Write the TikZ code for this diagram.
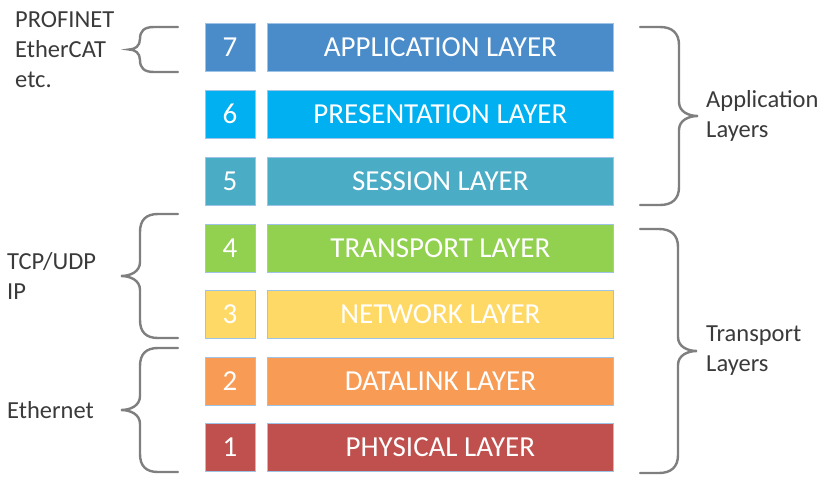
\documentclass[tikz,border=0pt]{standalone}
\usepackage{fontspec}
\setmainfont{Carlito}
\definecolor{appblue}{HTML}{4A8BC9}
\definecolor{presblue}{HTML}{00B0F0}
\definecolor{sessaqua}{HTML}{4BACC6}
\definecolor{transgreen}{HTML}{92D050}
\definecolor{netyellow}{HTML}{FFD966}
\definecolor{linkorange}{HTML}{F79B55}
\definecolor{physred}{HTML}{C0504D}
\definecolor{boxline}{HTML}{9DC3E6}
\definecolor{bracegray}{HTML}{7F7F7F}
\definecolor{labelgray}{HTML}{3A3A3A}
\tikzset{
  numbox/.style={draw=boxline, line width=0.8pt, minimum width=50pt, minimum height=48pt,
    inner sep=0pt, text=white, font=\fontsize{29}{32}\selectfont},
  layerbox/.style={numbox, minimum width=346pt, anchor=west},
  bracket/.style={draw=bracegray, line width=2.4pt, line cap=round},
  sidetext/.style={font=\fontsize{24.5}{30}\selectfont, align=left, text=labelgray,
    inner sep=0pt, anchor=west}
}
\begin{document}
\begin{tikzpicture}[x=1pt, y=-1pt]
\useasboundingbox (0,0) rectangle (824,480);
% the seven layers
\node[numbox, fill=appblue] (n7) at (230,47.5) {7};
\node[layerbox, fill=appblue] (l7) at (267,47.5) {APPLICATION LAYER};
\node[numbox, fill=presblue] (n6) at (230,114) {6};
\node[layerbox, fill=presblue] (l6) at (267,114) {PRESENTATION LAYER};
\node[numbox, fill=sessaqua] (n5) at (230,181) {5};
\node[layerbox, fill=sessaqua] (l5) at (267,181) {SESSION LAYER};
\node[numbox, fill=transgreen] (n4) at (230,248) {4};
\node[layerbox, fill=transgreen] (l4) at (267,248) {TRANSPORT LAYER};
\node[numbox, fill=netyellow] (n3) at (230,314.5) {3};
\node[layerbox, fill=netyellow] (l3) at (267,314.5) {NETWORK LAYER};
\node[numbox, fill=linkorange] (n2) at (230,381) {2};
\node[layerbox, fill=linkorange] (l2) at (267,381) {DATALINK LAYER};
\node[numbox, fill=physred] (n1) at (230,447.5) {1};
\node[layerbox, fill=physred] (l1) at (267,447.5) {PHYSICAL LAYER};
% left braces
\draw[bracket] (178,27) -- (154,27) .. controls (144,27) and (140,31) .. (140,39)
  .. controls (140,46) and (135,49.5) .. (129,49.5)
  .. controls (135,49.5) and (140,53) .. (140,60)
  .. controls (140,68) and (144,72) .. (154,72) -- (178,72);
\draw[bracket] (178,214) -- (158,214) .. controls (146,214) and (140,220) .. (140,232) -- (140,262)
  .. controls (140,272) and (130,276) .. (121,276)
  .. controls (130,276) and (140,280) .. (140,290) -- (140,320)
  .. controls (140,332) and (146,338) .. (158,338) -- (178,338);
\draw[bracket] (178,348) -- (158,348) .. controls (146,348) and (140,354) .. (140,366) -- (140,396)
  .. controls (140,406) and (130,410) .. (121,410)
  .. controls (130,410) and (140,414) .. (140,424) -- (140,454)
  .. controls (140,466) and (146,472) .. (158,472) -- (178,472);
% right braces
\draw[bracket] (640,27) -- (660,27) .. controls (672,27) and (679,33) .. (679,45) -- (679,102)
  .. controls (679,112) and (689,116) .. (698,116)
  .. controls (689,116) and (679,120) .. (679,130) -- (679,187)
  .. controls (679,199) and (672,205) .. (660,205) -- (640,205);
\draw[bracket] (640,229) -- (659,229) .. controls (671,229) and (678,235) .. (678,247) -- (678,337)
  .. controls (678,347) and (688,351) .. (697,351)
  .. controls (688,351) and (678,355) .. (678,365) -- (678,455)
  .. controls (678,467) and (671,473) .. (659,473) -- (640,473);
% labels
\node[sidetext] (fieldbus) at (15,50) {PROFINET\\EtherCAT\\etc.};
\node[sidetext] (tcpip) at (7,276) {TCP/UDP\\IP};
\node[sidetext] (ethernet) at (7,410) {Ethernet};
\node[sidetext] (applayers) at (706,116) {Application\\Layers};
\node[sidetext] (translayers) at (706,351) {Transport\\Layers};
\end{tikzpicture}
\end{document}
